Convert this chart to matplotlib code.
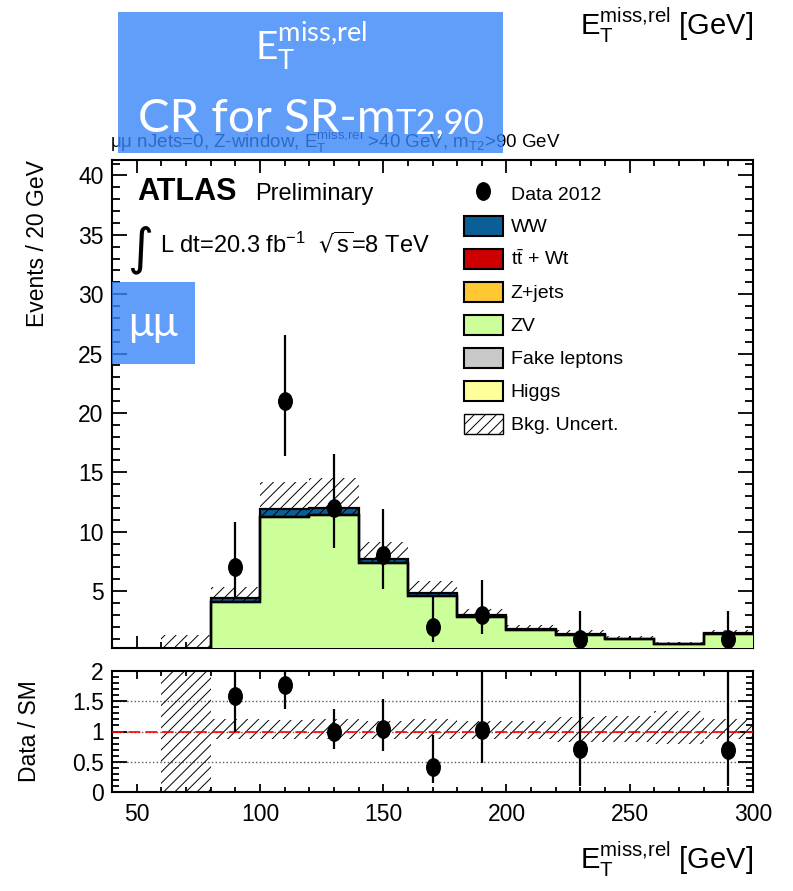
import numpy as np
import matplotlib
matplotlib.use("Agg")
import matplotlib.pyplot as plt
from matplotlib.patches import Patch, Rectangle
from matplotlib.lines import Line2D
from matplotlib.path import Path
from matplotlib.ticker import MultipleLocator, FuncFormatter

plt.rcParams['font.family'] = ['Liberation Sans', 'DejaVu Sans']
plt.rcParams['mathtext.default'] = 'regular'
plt.rcParams['hatch.linewidth'] = 0.7

# 20 GeV bins of E_T^miss,rel
bin_edges = np.arange(40, 301, 20)

# stacked backgrounds (events / bin)
zv = [0, 0.03, 4.1, 11.2, 11.4, 7.4, 4.6, 2.8, 1.7, 1.3, 0.95, 0.5, 1.35]
ww = [0, 0, 0.3, 0.7, 0.6, 0.3, 0.25, 0.15, 0.1, 0.1, 0.05, 0.05, 0.1]
ttbar = [0] * 13
zjets = [0] * 13
fakes = [0] * 13
higgs = [0] * 13

# background uncertainty (absolute, up / down)
unc_up = [0, 1.27, 0.92, 2.3, 2.5, 1.4, 1.0, 0.5, 0.31, 0.34, 0.25, 0.19, 0.29]
unc_dn = [0, 1.27, 0.57, 1.55, 1.55, 1.0, 0.6, 0.38, 0.23, 0.25, 0.18, 0.11, 0.19]

# data 2012
data = [0, 0, 7, 21, 12, 8, 2, 3, 0, 1, 0, 0, 1]
data_up = [0, 0, 3.8, 5.6, 4.5, 3.9, 2.6, 2.9, 0, 2.3, 0, 0, 2.3]
data_dn = [0, 0, 2.6, 4.6, 3.4, 2.8, 1.3, 1.6, 0, 0.85, 0, 0, 0.85]

W, H = 793, 891


def fx(px):
    return px / W


def fy(py):
    return 1 - py / H


fig = plt.figure(figsize=(W / 100, H / 100), dpi=100)
ax = fig.add_axes([fx(112), fy(648), fx(753) - fx(112), fy(160) - fy(648)])
rax = fig.add_axes([fx(112), fy(792), fx(753) - fx(112), fy(671) - fy(792)])

centers = 0.5 * (bin_edges[1:] + bin_edges[:-1])
data = np.array(data, float)
data_up = np.array(data_up, float)
data_dn = np.array(data_dn, float)

# stack: bottom to top
comps = [('Higgs', higgs, '#ffff99'),
         ('Fake leptons', fakes, '#c8c8c8'),
         ('ZV', zv, '#ccff99'),
         ('Z+jets', zjets, '#ffc832'),
         (r't$\bar{t}$ + Wt', ttbar, '#cc0000'),
         ('WW', ww, '#0a5f96')]
cum = np.zeros(len(centers))
for name, vals, col in comps:
    vals = np.array(vals, float)
    top = cum + vals
    ax.stairs(top, bin_edges, baseline=cum, fill=True, color=col, lw=0,
              zorder=1 if name == 'WW' else 3)
    ax.stairs(top, bin_edges, baseline=None, color='k', lw=1.6, zorder=4)
    cum = top
total = cum

# uncertainty band
band_lo = np.clip(total - np.array(unc_dn), 0, None)
band_hi = total + np.array(unc_up)
ax.stairs(band_hi, bin_edges, baseline=band_lo, fill=True, facecolor='none',
          edgecolor='k', hatch='///', lw=0, zorder=2)

# data marker (slightly squeezed circle)
circ = Path.unit_circle()
ell = Path(circ.vertices * [0.78, 1.0], circ.codes)

m = data > 0
ax.errorbar(centers[m], data[m], yerr=[data_dn[m], data_up[m]], fmt='none',
            ecolor='k', elinewidth=1.6, capsize=0, zorder=5)
ax.plot(centers[m], data[m], ls='none', marker=ell, ms=12.5, color='k', zorder=6)

ax.set_xlim(bin_edges[0], bin_edges[-1])
ax.set_ylim(0.2, 41.3)
ax.xaxis.set_major_locator(MultipleLocator(50))
ax.xaxis.set_minor_locator(MultipleLocator(10))
ax.yaxis.set_major_locator(MultipleLocator(5))
ax.yaxis.set_minor_locator(MultipleLocator(1))
ax.tick_params(which='both', direction='in', top=True, right=True,
               labelbottom=False, width=1.3)
ax.tick_params(axis='y', which='major', length=11, labelsize=16.5, pad=6)
ax.tick_params(axis='y', which='minor', length=5.5)
ax.tick_params(axis='x', which='major', length=9)
ax.tick_params(axis='x', which='minor', length=4.5)
for s in ax.spines.values():
    s.set_linewidth(1.5)

# legend
labels = ['Data 2012', 'WW', r't$\bar{t}$ + Wt', 'Z+jets', 'ZV', 'Fake leptons',
          'Higgs', 'Bkg. Uncert.']
colmap = {name: col for name, _, col in comps}
handles = [Line2D([], [], ls='none', marker=ell, ms=12.5, color='k')]
for lab in labels[1:-1]:
    handles.append(Patch(facecolor=colmap[lab], edgecolor='k', lw=1.5))
handles.append(Patch(facecolor='white', edgecolor='k', hatch='///', lw=1))
ax.legend(handles, labels, loc='upper left', bbox_to_anchor=(fx(464), fy(183)),
          bbox_transform=fig.transFigure, frameon=False, fontsize=14,
          handlelength=2.0, handleheight=1.2, labelspacing=0.64,
          handletextpad=0.4, borderpad=0, borderaxespad=0)

# ratio panel
with np.errstate(divide='ignore', invalid='ignore'):
    safe = np.where(total > 0, total, 1.0)
    r_lo = np.where(total > 0, 1 - np.array(unc_dn) / safe, 1.0)
    r_hi = np.where(total > 0, 1 + np.array(unc_up) / safe, 1.0)
r_lo = np.clip(r_lo, -0.1, 2.1)
r_hi = np.clip(r_hi, -0.1, 2.1)
rax.stairs(r_hi, bin_edges, baseline=r_lo, fill=True, facecolor='none',
           edgecolor='k', hatch='///', lw=0, zorder=2)
for lvl in (0.5, 1.0, 1.5):
    rax.axhline(lvl, ls=':', color='0.35', lw=1.0, zorder=1)
rax.axhline(1, color='red', ls=(0, (7, 3)), lw=1.2, zorder=3)
ratio = data[m] / total[m]
rax.errorbar(centers[m], ratio, yerr=[data_dn[m] / total[m], data_up[m] / total[m]],
             fmt='none', ecolor='k', elinewidth=1.6, capsize=0, zorder=5)
rax.plot(centers[m], ratio, ls='none', marker=ell, ms=12.5, color='k', zorder=6)

rax.set_xlim(bin_edges[0], bin_edges[-1])
rax.set_ylim(0, 2)
rax.set_yticks([0, 0.5, 1, 1.5, 2])
rax.yaxis.set_major_formatter(FuncFormatter(lambda v, p: f'{v:g}'))
rax.yaxis.set_minor_locator(MultipleLocator(0.1))
rax.xaxis.set_major_locator(MultipleLocator(50))
rax.xaxis.set_minor_locator(MultipleLocator(10))
rax.tick_params(which='both', direction='in', top=True, right=True, width=1.3,
                labelsize=16.5)
rax.tick_params(axis='y', which='major', length=11, pad=6)
rax.tick_params(axis='y', which='minor', length=5)
rax.tick_params(axis='x', which='major', length=6, pad=8)
rax.tick_params(axis='x', which='minor', length=3.5)
for s in rax.spines.values():
    s.set_linewidth(1.5)

# axis titles
fig.text(fx(38), fy(160), 'Events / 20 GeV', rotation=90, ha='center', va='top',
         fontsize=16.5)
fig.text(fx(30), fy(731), 'Data / SM', rotation=90, ha='center', va='center',
         fontsize=16.5)
xtitle = r'E$_T^{miss{,}rel}$ [GeV]'
fig.text(fx(753), fy(869), xtitle, ha='right', va='baseline', fontsize=21)
fig.text(fx(753), fy(35), xtitle, ha='right', va='baseline', fontsize=21)

# ATLAS labels
fig.text(fx(137), fy(200), 'ATLAS', fontweight='bold', fontsize=22, va='baseline')
fig.text(fx(255), fy(200), 'Preliminary', fontsize=17, va='baseline')
fig.text(fx(127), fy(263), '\u222b', fontsize=36, va='baseline',
         family='DejaVu Sans')
fig.text(fx(160), fy(253), r'L dt=20.3 fb$^{-1}$  $\sqrt{s}$=8 TeV', fontsize=17,
         va='baseline')

# selection caption (partly under the blue box)
fig.text(fx(110), fy(148),
         '\u03bc\u03bc nJets=0, Z-window, E$_T^{miss{,}rel}$ >40 GeV, m$_{T2}$>90 GeV',
         fontsize=13.5, va='baseline', zorder=3)

# blue overlay boxes
box_col = (0.22, 0.525, 0.976)
fig.add_artist(Rectangle((fx(118), fy(153)), fx(503) - fx(118), fy(12) - fy(153),
                         transform=fig.transFigure, facecolor=box_col, alpha=0.8,
                         lw=0, zorder=5))
fig.add_artist(Rectangle((fx(112), fy(364)), fx(195) - fx(112), fy(282) - fy(364),
                         transform=fig.transFigure, facecolor=box_col, alpha=0.8,
                         lw=0, zorder=5))
box_font = ['Lato', 'DejaVu Sans']
fig.text(fx(311), fy(60), r'E$_T^{miss{,}rel}$', family=box_font, color='white',
         fontsize=28, ha='center', va='baseline', zorder=6)

renderer = fig.canvas.get_renderer()
t1 = fig.text(0, fy(132), 'CR for SR-m', family=box_font, color='white',
              fontsize=34, va='baseline', zorder=6)
t2 = fig.text(0, fy(133), 'T2,90', family=box_font, color='white',
              fontsize=25, va='baseline', zorder=6)
w1 = t1.get_window_extent(renderer).width
w2 = t2.get_window_extent(renderer).width
x0 = 311 - (w1 + w2) / 2
t1.set_x(fx(x0))
t2.set_x(fx(x0 + w1))

fig.text(fx(153), fy(336), '\u03bc\u03bc', family=box_font, color='white',
         fontsize=30, ha='center', va='baseline', zorder=6)

fig.savefig('out.png', dpi=100)
